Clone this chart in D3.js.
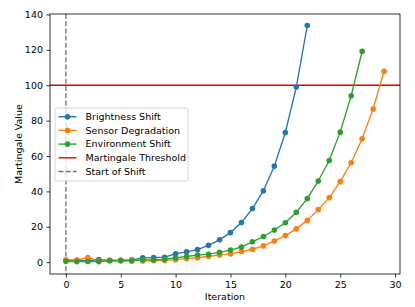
<!DOCTYPE html>
<html>
<head>
<meta charset="utf-8">
<script src="https://cdn.jsdelivr.net/npm/d3@7"></script>
<style>
  body { margin: 0; background: #fff; }
  text { font-family: "DejaVu Sans", sans-serif; }
</style>
</head>
<body>
<svg id="chart" width="415" height="307"></svg>
<script>

// martingale values read per iteration
var brightness = [1.0, 1.0, 0.8, 1.5, 0.9, 1.0, 1.2, 2.4, 2.6, 2.8, 4.7, 5.8, 7.1, 9.5,
  12.6, 16.7, 22.4, 30.3, 40.4, 54.3, 73.3, 99.0, 133.8];
var sensor = [1.2, 1.2, 2.6, 0.6, 1.2, 1.0, 1.5, 0.7, 0.8, 1.0, 1.4, 2.0, 2.5, 3.2, 4.1,
  4.7, 6.0, 7.3, 9.2, 12.0, 15.0, 18.8, 23.6, 29.7, 36.5, 45.5, 56.2, 69.8, 86.6, 107.9];
var environment = [0.5, 0.3, 0.4, 0.3, 0.8, 0.8, 0.7, 1.3, 1.3, 1.7, 2.4, 3.2, 4.0, 4.5,
  5.5, 6.8, 8.6, 11.5, 14.5, 18.2, 22.3, 28.2, 35.9, 45.9, 57.5, 73.5, 94.1, 119.2];

var seriesNames = ["Brightness Shift", "Sensor Degradation", "Environment Shift"];
var seriesColors = ["#1f77b4", "#ff7f0e", "#2ca02c"];
var threshold = 100;
var shiftStart = 0;

var xTicks = [0, 5, 10, 15, 20, 25, 30];
var yTicks = [0, 20, 40, 60, 80, 100, 120, 140];

var m = { left: 50, right: 400, top: 14, bottom: 274 };
var fs = 9.5;

var svg = d3.select("#chart");

var x = d3.scaleLinear().domain([-1.45, 30.45]).range([m.left, m.right]);
var y = d3.scaleLinear().domain([-6.7, 140.3]).range([m.bottom, m.top]);

// axes
var xAxis = svg.append("g")
  .attr("transform", "translate(0," + m.bottom + ")")
  .call(d3.axisBottom(x).tickValues(xTicks).tickSize(3.5).tickPadding(3.5).tickFormat(d3.format("d")));
var yAxis = svg.append("g")
  .attr("transform", "translate(" + m.left + ",0)")
  .call(d3.axisLeft(y).tickValues(yTicks).tickSize(3.5).tickPadding(3.5).tickFormat(d3.format("d")));

[xAxis, yAxis].forEach(function(a){
  a.select(".domain").remove();
  a.selectAll("line").attr("stroke", "#000").attr("stroke-width", 0.8);
  a.selectAll("text").attr("font-size", fs).attr("fill", "#000")
    .style("font-family", "DejaVu Sans, sans-serif");
});

// reference lines
svg.append("line")
  .attr("x1", m.left).attr("x2", m.right)
  .attr("y1", y(threshold)).attr("y2", y(threshold))
  .attr("stroke", "#e00000").attr("stroke-width", 1.35);

svg.append("line")
  .attr("x1", x(shiftStart)).attr("x2", x(shiftStart))
  .attr("y1", m.top).attr("y2", m.bottom)
  .attr("stroke", "#000").attr("stroke-opacity", 0.55)
  .attr("stroke-width", 1.35).attr("stroke-dasharray", "5,2.2");

// series
var line = d3.line()
  .x(function(d, i){ return x(i); })
  .y(function(d){ return y(d); });

[brightness, sensor, environment].forEach(function(data, k){
  var g = svg.append("g");
  g.append("path")
    .attr("d", line(data))
    .attr("fill", "none")
    .attr("stroke", seriesColors[k])
    .attr("stroke-width", 1.35);
  g.selectAll("circle")
    .data(data)
    .enter().append("circle")
    .attr("cx", function(d, i){ return x(i); })
    .attr("cy", function(d){ return y(d); })
    .attr("r", 2.8)
    .attr("fill", seriesColors[k]);
});

// frame
svg.append("rect")
  .attr("x", m.left).attr("y", m.top)
  .attr("width", m.right - m.left).attr("height", m.bottom - m.top)
  .attr("fill", "none").attr("stroke", "#000").attr("stroke-width", 0.8);

// axis titles
svg.append("text")
  .attr("x", (m.left + m.right) / 2).attr("y", 300)
  .attr("text-anchor", "middle").attr("font-size", fs)
  .text("Iteration");

svg.append("text")
  .attr("transform", "translate(22," + ((m.top + m.bottom) / 2) + ") rotate(-90)")
  .attr("text-anchor", "middle").attr("font-size", fs)
  .text("Martingale Value");

// legend
var legendItems = [
  { name: seriesNames[0], color: seriesColors[0], marker: true },
  { name: seriesNames[1], color: seriesColors[1], marker: true },
  { name: seriesNames[2], color: seriesColors[2], marker: true },
  { name: "Martingale Threshold", color: "#e00000", marker: false },
  { name: "Start of Shift", color: "#000", marker: false, dashed: true }
];

var legend = svg.append("g").attr("transform", "translate(55,108)");
legend.append("rect")
  .attr("width", 133).attr("height", 73).attr("rx", 2)
  .attr("fill", "#fff").attr("fill-opacity", 0.8)
  .attr("stroke", "#ccc").attr("stroke-width", 0.8);

var item = legend.selectAll("g.item")
  .data(legendItems)
  .enter().append("g")
  .attr("class", "item")
  .attr("transform", function(d, i){ return "translate(0," + (8.7 + i * 13.7) + ")"; });

item.append("line")
  .attr("x1", 3.5).attr("x2", 21.5)
  .attr("stroke", function(d){ return d.color; })
  .attr("stroke-opacity", function(d){ return d.dashed ? 0.55 : 1; })
  .attr("stroke-width", 1.35)
  .attr("stroke-dasharray", function(d){ return d.dashed ? "5,2.2" : null; });

item.filter(function(d){ return d.marker; })
  .append("circle")
  .attr("cx", 12.5).attr("r", 2.8)
  .attr("fill", function(d){ return d.color; });

item.append("text")
  .attr("x", 30.5).attr("dy", "0.35em")
  .attr("font-size", fs)
  .text(function(d){ return d.name; });

</script>
</body>
</html>
